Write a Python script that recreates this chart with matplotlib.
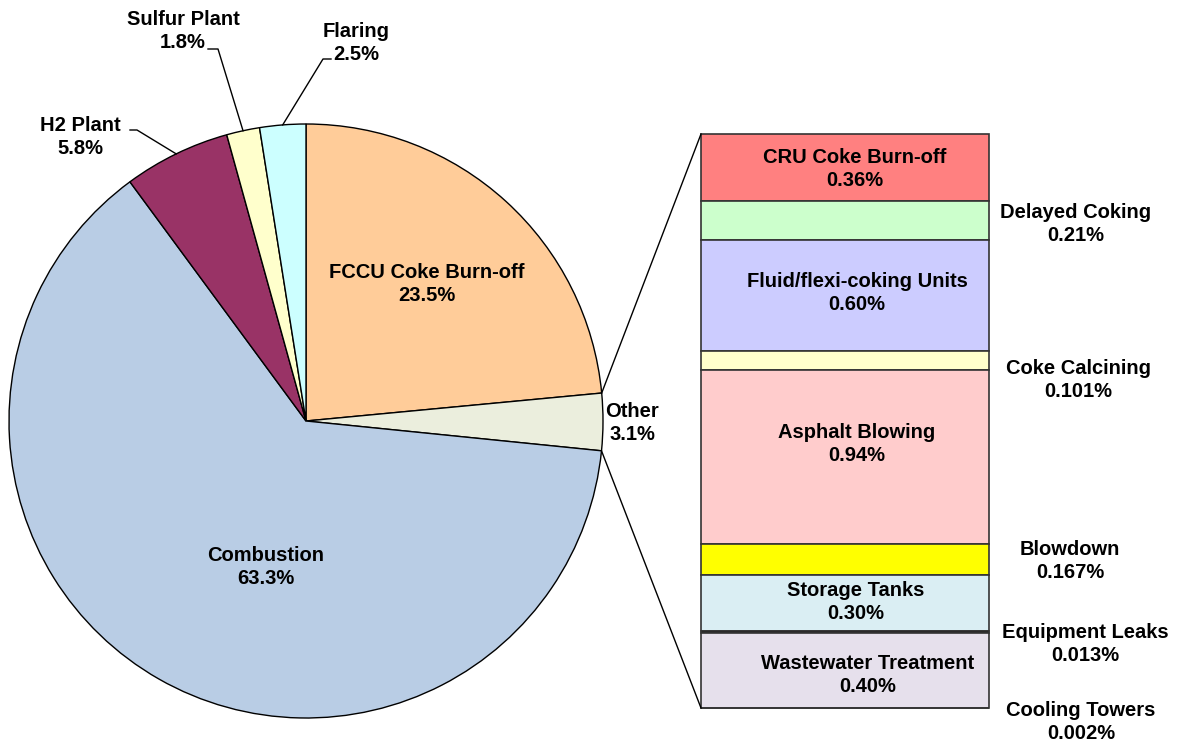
import numpy as np
import matplotlib
matplotlib.use("Agg")
import matplotlib.pyplot as plt

# Pie data (clockwise from 12 o'clock)
pie_labels = ["FCCU Coke Burn-off", "Other", "Combustion", "H2 Plant", "Sulfur Plant", "Flaring"]
pie_values = [23.5, 3.1, 63.3, 5.8, 1.8, 2.5]
pie_colors = ["#FFCC99", "#EBEEDD", "#B9CDE5", "#993366", "#FFFFCC", "#CCFFFF"]

# Breakdown of "Other" (top to bottom)
bar_labels = ["CRU Coke Burn-off", "Delayed Coking", "Fluid/flexi-coking Units", "Coke Calcining",
              "Asphalt Blowing", "Blowdown", "Storage Tanks", "Equipment Leaks",
              "Wastewater Treatment", "Cooling Towers"]
bar_values = [0.36, 0.21, 0.60, 0.101, 0.94, 0.167, 0.30, 0.013, 0.40, 0.002]
bar_pct = ["0.36%", "0.21%", "0.60%", "0.101%", "0.94%", "0.167%", "0.30%", "0.013%", "0.40%", "0.002%"]
bar_colors = ["#FF8080", "#CCFFCC", "#CCCCFF", "#FFFFCC", "#FFCCCC", "#FFFF00", "#DAEEF3",
              "#000000", "#E6E0EC", "#000000"]

W, H = 1179, 742
fig = plt.figure(figsize=(W / 100, H / 100), dpi=100)
ax = fig.add_axes([0, 0, 1, 1])

FONT = dict(family="Liberation Sans", fontweight="bold", fontsize=14.5, color="black")
LS = 1.3

# pie geometry in pixel units (y up)
cx, cy, r = 306, H - 421, 297
wedges, _ = ax.pie(pie_values, colors=pie_colors, startangle=90, counterclock=False,
                   center=(cx, cy), radius=r,
                   wedgeprops=dict(edgecolor="black", linewidth=1.0))
ax.set_xlim(0, W)
ax.set_ylim(0, H)
ax.set_aspect("auto")
ax.axis("off")

# labels inside / next to wedges
ax.text(427, H - 284, "FCCU Coke Burn-off\n23.5%", ha="center", va="center", linespacing=LS, **FONT)
ax.text(266, H - 567, "Combustion\n63.3%", ha="center", va="center", linespacing=LS, **FONT)
ax.text(632, H - 423, "Other\n3.1%", ha="center", va="center", linespacing=LS, **FONT)

# outside labels with leader lines
outside = {
    "H2 Plant": ((80, H - 137), (137, 130), (130, 130)),
    "Sulfur Plant": ((183, H - 31), (218, 49), (208, 49)),
    "Flaring": ((356, H - 43), (323, 59), (331, 59)),
}
cum = np.cumsum([0] + pie_values)
for i, lab in enumerate(pie_labels):
    if lab not in outside:
        continue
    mid = 90 - (cum[i] + pie_values[i] / 2) / 100 * 360
    ex = cx + r * np.cos(np.radians(mid))
    ey = cy + r * np.sin(np.radians(mid))
    (tx, ty), (kx, ky), (hx, hy) = outside[lab]
    ax.plot([ex, kx, hx], [ey, H - ky, H - hy], color="black", lw=1.0)
    ax.text(tx, ty, f"{lab}\n{pie_values[i]}%", ha="center", va="center", linespacing=LS, **FONT)

# stacked bar for "Other"
bx0, bx1 = 701, 989
btop, bbot = H - 134, H - 708
scale = (btop - bbot) / sum(bar_values)
heights = np.array(bar_values) * scale
tops = btop - np.concatenate([[0], np.cumsum(heights)[:-1]])
bottoms = tops - heights
for i in range(len(bar_values)):
    ax.bar((bx0 + bx1) / 2, heights[i], width=bx1 - bx0, bottom=bottoms[i],
           color=bar_colors[i], edgecolor="#333333", linewidth=1.2)

# connector lines from "Other" wedge edges to bar corners
a_top = 90 - cum[1] / 100 * 360
a_bot = 90 - cum[2] / 100 * 360
for a, by in [(a_top, btop), (a_bot, bbot)]:
    px = cx + r * np.cos(np.radians(a))
    py = cy + r * np.sin(np.radians(a))
    ax.plot([px, bx0], [py, by], color="black", lw=1.0)

# bar labels (inside for large segments, right side for small ones)
label_pos = {
    "CRU Coke Burn-off": (855, 169),
    "Delayed Coking": (1076, 224),
    "Fluid/flexi-coking Units": (857, 293),
    "Coke Calcining": (1078, 380),
    "Asphalt Blowing": (857, 444),
    "Blowdown": (1070, 561),
    "Storage Tanks": (856, 602),
    "Equipment Leaks": (1085, 644),
    "Wastewater Treatment": (868, 675),
    "Cooling Towers": (1081, 722),
}
for lab, pct in zip(bar_labels, bar_pct):
    x, y = label_pos[lab]
    ax.text(x, H - y, f"{lab}\n{pct}", ha="center", va="center", linespacing=LS, **FONT)

fig.savefig("out.png", dpi=100, facecolor="white")
